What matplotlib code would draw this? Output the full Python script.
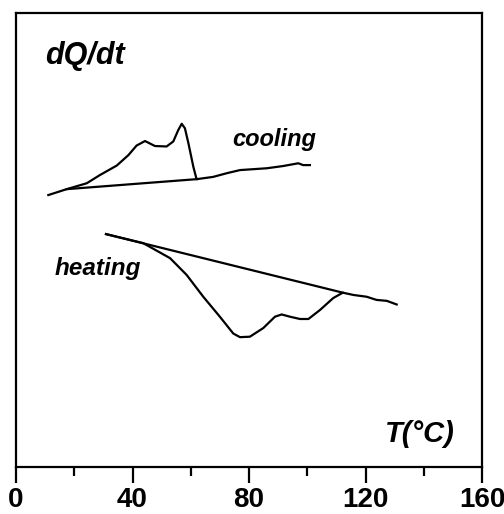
import matplotlib
matplotlib.use('Agg')
import matplotlib.pyplot as plt
import numpy as np

plt.rcParams['font.family'] = 'Liberation Sans'
plt.rcParams['font.weight'] = 'bold'

# cooling trace (T in degC, signal in arbitrary units)
cool_T = [11.1, 17.4, 24.3, 28.8, 34.6, 38.6, 41.4, 44.3, 47.7, 51.7, 54.0, 55.7,
          56.9, 58.0, 59.2, 60.9, 62.0, 67.7, 72.3, 76.9, 81.5, 86.1, 91.8, 96.9,
          98.6, 100.9]
cool_y = [59.9, 61.2, 62.5, 64.3, 66.4, 68.7, 70.8, 71.8, 70.7, 70.6, 71.7, 74.2,
          75.6, 74.6, 71.3, 66.1, 63.4, 63.9, 64.7, 65.4, 65.6, 65.8, 66.3, 66.9,
          66.5, 66.5]
cool_base_T = [17.4, 62.0]
cool_base_y = [61.2, 63.4]

# heating trace
heat_T = [30.9, 43.7, 52.9, 58.6, 64.3, 70.0, 74.6, 76.9, 80.3, 84.9, 88.9, 91.2,
          94.1, 97.5, 100.4, 104.4, 108.9, 112.2, 115.8, 120.4, 123.8, 127.3, 130.7]
heat_y = [51.3, 49.3, 46.0, 42.3, 37.5, 33.1, 29.4, 28.6, 28.7, 30.6, 33.1, 33.6,
          33.1, 32.6, 32.6, 34.6, 37.2, 38.4, 37.9, 37.5, 36.8, 36.6, 35.8]
heat_base_T = [30.9, 112.2]
heat_base_y = [51.3, 38.4]

major_ticks = [0, 40, 80, 120, 160]
minor_ticks = [20, 60, 100, 140]

fig = plt.figure(figsize=(5.04, 5.14), dpi=100)
ax = fig.add_axes([16/504, 47/514, 466/504, 454/514])

lw = 1.6
ax.plot(cool_T, cool_y, 'k-', linewidth=lw)
ax.plot(cool_base_T, cool_base_y, 'k-', linewidth=lw)
ax.plot(heat_T, heat_y, 'k-', linewidth=lw)
ax.plot(heat_base_T, heat_base_y, 'k-', linewidth=lw)

ax.set_xlim(0, 160)
ax.set_ylim(0, 100)
ax.set_xticks(major_ticks)
ax.set_xticks(minor_ticks, minor=True)
ax.set_yticks([])
ax.tick_params(axis='x', which='major', direction='out', length=11.5, width=1.6,
               pad=3, labelsize=20)
ax.tick_params(axis='x', which='minor', direction='out', length=6.5, width=1.6)
for lab in ax.get_xticklabels():
    lab.set_fontweight('bold')
for s in ax.spines.values():
    s.set_linewidth(1.6)

tkw = dict(fontweight='bold', fontstyle='italic', color='black')
ax.text(10.0, 88.8, 'dQ/dt', fontsize=22, **tkw)
ax.text(74.1, 70.6, 'cooling', fontsize=17, **tkw)
ax.text(13.4, 42.3, 'heating', fontsize=17.5, **tkw)
ax.text(126.7, 5.6, 'T(°C)', fontsize=21, **tkw)

fig.savefig('out.png', dpi=100)
